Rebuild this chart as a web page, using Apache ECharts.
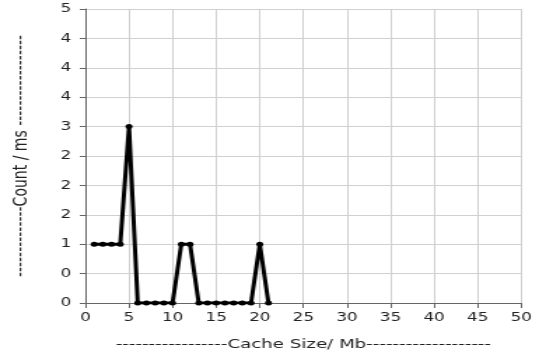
<!DOCTYPE html>
<html><head><meta charset="utf-8">
<script src="https://cdn.jsdelivr.net/npm/echarts@6/dist/echarts.min.js"></script>
<style>html,body{margin:0;padding:0;background:#fff;overflow:hidden}
#c{width:383px;height:356px;transform:scaleX(1.4);transform-origin:0 0}</style>
</head><body><div id="c"></div>
<script>
var xValues = [1,2,3,4,5,6,7,8,9,10,11,12,13,14,15,16,17,18,19,20,21];
var countValues = [1,1,1,1,3,0,0,0,0,0,1,1,0,0,0,0,0,0,0,1,0];
var yTickLabels = ['0','0','1','2','2','2','3','4','4','4','5'];
var xTitle = '-----------------Cache Size/ Mb-------------------';
var yTitle = '--------------Count / ms ------------------';

var chart = echarts.init(document.getElementById('c'), null, {renderer:'canvas'});
chart.setOption({
  animation:false,
  backgroundColor:'#fff',
  grid:{left:59.5,right:7.3,top:9,bottom:48,containLabel:false},
  xAxis:{
    type:'value',min:0,max:50,interval:5,
    name:xTitle,nameLocation:'middle',nameGap:35,
    nameTextStyle:{color:'#222',fontFamily:'DejaVu Sans',fontSize:13},
    axisLine:{show:true,lineStyle:{color:'#666',width:1}},
    axisTick:{show:true,length:5,lineStyle:{color:'#666'}},
    axisLabel:{color:'#222',fontFamily:'DejaVu Sans',fontSize:12,margin:9},
    splitLine:{show:true,lineStyle:{color:'#d0d0d0',width:1}}
  },
  yAxis:{
    type:'value',min:0,max:5,interval:0.5,
    name:yTitle,nameLocation:'middle',nameGap:39,nameRotate:90,
    nameTextStyle:{color:'#222',fontFamily:'DejaVu Sans',fontSize:14},
    axisLine:{show:true,lineStyle:{color:'#666',width:1}},
    axisTick:{show:true,length:4,lineStyle:{color:'#666'}},
    axisLabel:{color:'#222',fontFamily:'DejaVu Sans',fontSize:12,margin:10,
      formatter:function(v,i){return yTickLabels[i];}},
    splitLine:{show:true,lineStyle:{color:'#d0d0d0',width:1}}
  },
  series:[{
    type:'line',
    data:xValues.map(function(x,i){return [x,countValues[i]];}),
    symbol:'circle',symbolSize:5,showSymbol:true,
    lineStyle:{color:'#000',width:3},
    itemStyle:{color:'#000'}
  }]
});
</script></body></html>
